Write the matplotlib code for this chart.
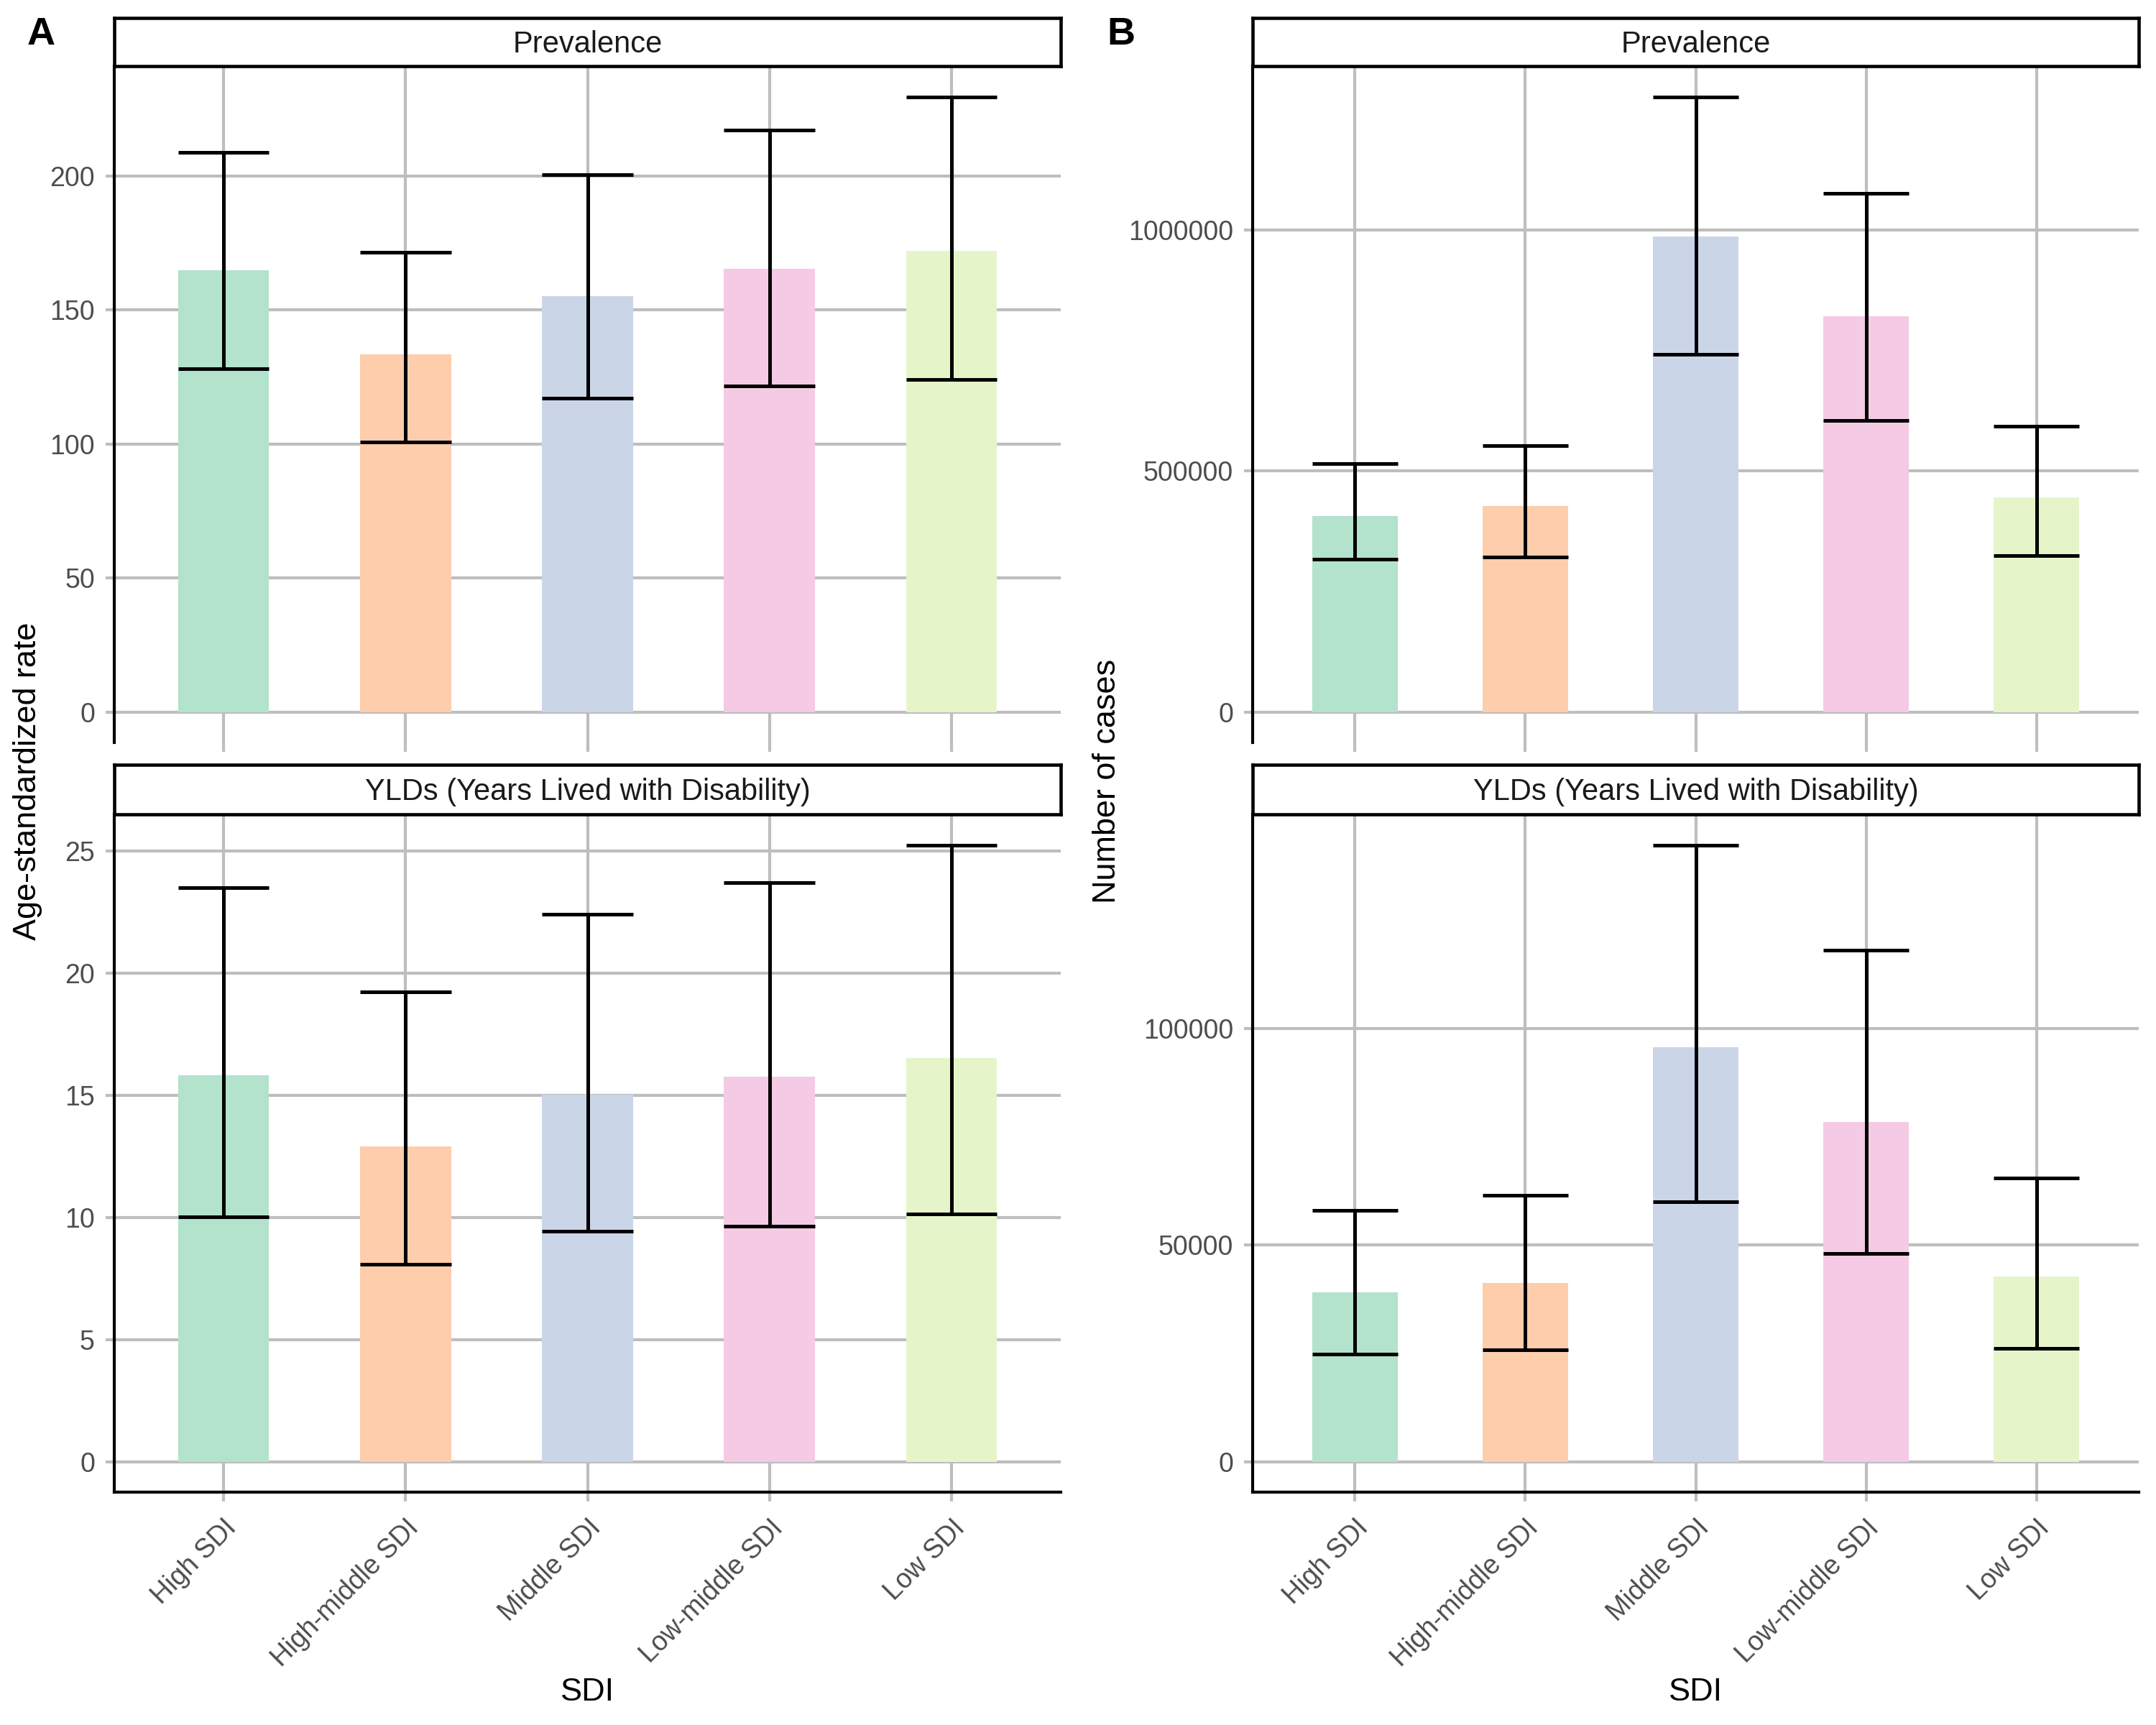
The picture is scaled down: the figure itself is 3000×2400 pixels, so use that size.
import numpy as np
import matplotlib
matplotlib.use("Agg")
import matplotlib.pyplot as plt
from matplotlib.ticker import FixedLocator, FuncFormatter

# Categories and colours
sdi = ["High SDI", "High-middle SDI", "Middle SDI", "Low-middle SDI", "Low SDI"]
colors = ["#B3E2CD", "#FDCDAC", "#CBD5E8", "#F4CAE4", "#E6F5C9"]

# Panel A: age-standardized rates
rate_prev = [164.8, 133.5, 155.2, 165.4, 172.0]
rate_prev_lo = [128.0, 100.8, 117.0, 121.7, 124.1]
rate_prev_hi = [209.0, 171.7, 200.6, 217.2, 229.6]

rate_yld = [15.82, 12.92, 15.03, 15.77, 16.53]
rate_yld_lo = [10.02, 8.09, 9.44, 9.64, 10.15]
rate_yld_hi = [23.52, 19.25, 22.41, 23.73, 25.25]

# Panel B: number of cases
n_prev = [407000, 427000, 986000, 821000, 445000]
n_prev_lo = [317000, 321000, 742000, 604000, 324000]
n_prev_hi = [515000, 552000, 1276000, 1076000, 593000]

n_yld = [39100, 41300, 95600, 78400, 42700]
n_yld_lo = [24800, 25800, 60000, 48000, 26200]
n_yld_hi = [58000, 61500, 142300, 118100, 65500]

ticks_rate_prev = [0, 50, 100, 150, 200]
ticks_rate_yld = [0, 5, 10, 15, 20, 25]
ticks_n_prev = [0, 500000, 1000000]
ticks_n_yld = [0, 50000, 100000]

strip_titles = ["Prevalence", "YLDs (Years Lived with Disability)"]

FONT = ["Liberation Sans", "DejaVu Sans"]
plt.rcParams["font.family"] = FONT
GRID = "#BEBEBE"
TXT = "#4D4D4D"

fig = plt.figure(figsize=(10, 8), dpi=300)

# layout fractions
col_x = [(0.053, 0.492), (0.581, 0.992)]
top_strip = (0.9617, 0.9896)
top_plot = (0.5694, 0.9617)
bot_strip = (0.5279, 0.5566)
bot_plot = (0.1348, 0.5279)


def draw_panel(rect, vals, lo, hi, yticks, show_x):
    ax = fig.add_axes(rect)
    x = np.arange(len(sdi))
    ax.bar(x, vals, width=0.5, color=colors, zorder=2)
    ax.vlines(x, lo, hi, color="black", lw=1.2, zorder=3)
    ax.hlines(lo, x - 0.25, x + 0.25, color="black", lw=1.2, zorder=3)
    ax.hlines(hi, x - 0.25, x + 0.25, color="black", lw=1.2, zorder=3)
    top = max(hi)
    pad = 0.05 * top
    ax.set_ylim(-pad, top + pad)
    ax.set_xlim(-0.6, len(sdi) - 0.4)
    ax.yaxis.set_major_locator(FixedLocator(yticks))
    ax.yaxis.set_major_formatter(FuncFormatter(lambda v, p: f"{v:.0f}"))
    ax.set_xticks(x)
    ax.set_axisbelow(True)
    ax.grid(True, color=GRID, lw=1.0, zorder=0)
    ax.tick_params(axis="both", colors=GRID, length=3, width=1.0,
                   labelcolor=TXT, labelsize=9)
    for s in ["top", "right"]:
        ax.spines[s].set_visible(False)
    ax.spines["left"].set_linewidth(1.0)
    if show_x:
        ax.spines["bottom"].set_linewidth(1.0)
        ax.set_xticklabels(sdi, rotation=45, ha="right", va="top",
                           rotation_mode="anchor")
        ax.tick_params(axis="x", pad=4.5)
    else:
        ax.spines["bottom"].set_visible(False)
        ax.set_xticklabels([])
    return ax


def draw_strip(x0, x1, y0, y1, title):
    sx = fig.add_axes([x0, y0, x1 - x0, y1 - y0])
    sx.set_xticks([])
    sx.set_yticks([])
    for s in sx.spines.values():
        s.set_linewidth(1.1)
    sx.text(0.5, 0.45, title, ha="center", va="center", fontsize=10,
            color="#1A1A1A", transform=sx.transAxes)


panels = [
    [(rate_prev, rate_prev_lo, rate_prev_hi, ticks_rate_prev),
     (rate_yld, rate_yld_lo, rate_yld_hi, ticks_rate_yld)],
    [(n_prev, n_prev_lo, n_prev_hi, ticks_n_prev),
     (n_yld, n_yld_lo, n_yld_hi, ticks_n_yld)],
]

for c, (x0, x1) in enumerate(col_x):
    w = x1 - x0
    p_top, p_bot = panels[c]
    draw_panel([x0, top_plot[0], w, top_plot[1] - top_plot[0]], *p_top, show_x=False)
    draw_panel([x0, bot_plot[0], w, bot_plot[1] - bot_plot[0]], *p_bot, show_x=True)
    draw_strip(x0, x1, *top_strip, strip_titles[0])
    draw_strip(x0, x1, *bot_strip, strip_titles[1])
    fig.text((x0 + x1) / 2, 0.019, "SDI", ha="center", va="center", fontsize=10.8)

fig.text(0.0128, 0.547, "Age-standardized rate", rotation=90, ha="center",
         va="center", fontsize=10.8)
fig.text(0.5134, 0.547, "Number of cases", rotation=90, ha="center",
         va="center", fontsize=10.8)
fig.text(0.019, 0.980, "A", ha="center", va="center", fontsize=13, fontweight="bold")
fig.text(0.520, 0.980, "B", ha="center", va="center", fontsize=13, fontweight="bold")

fig.savefig("out.png", dpi=300, facecolor="white")
